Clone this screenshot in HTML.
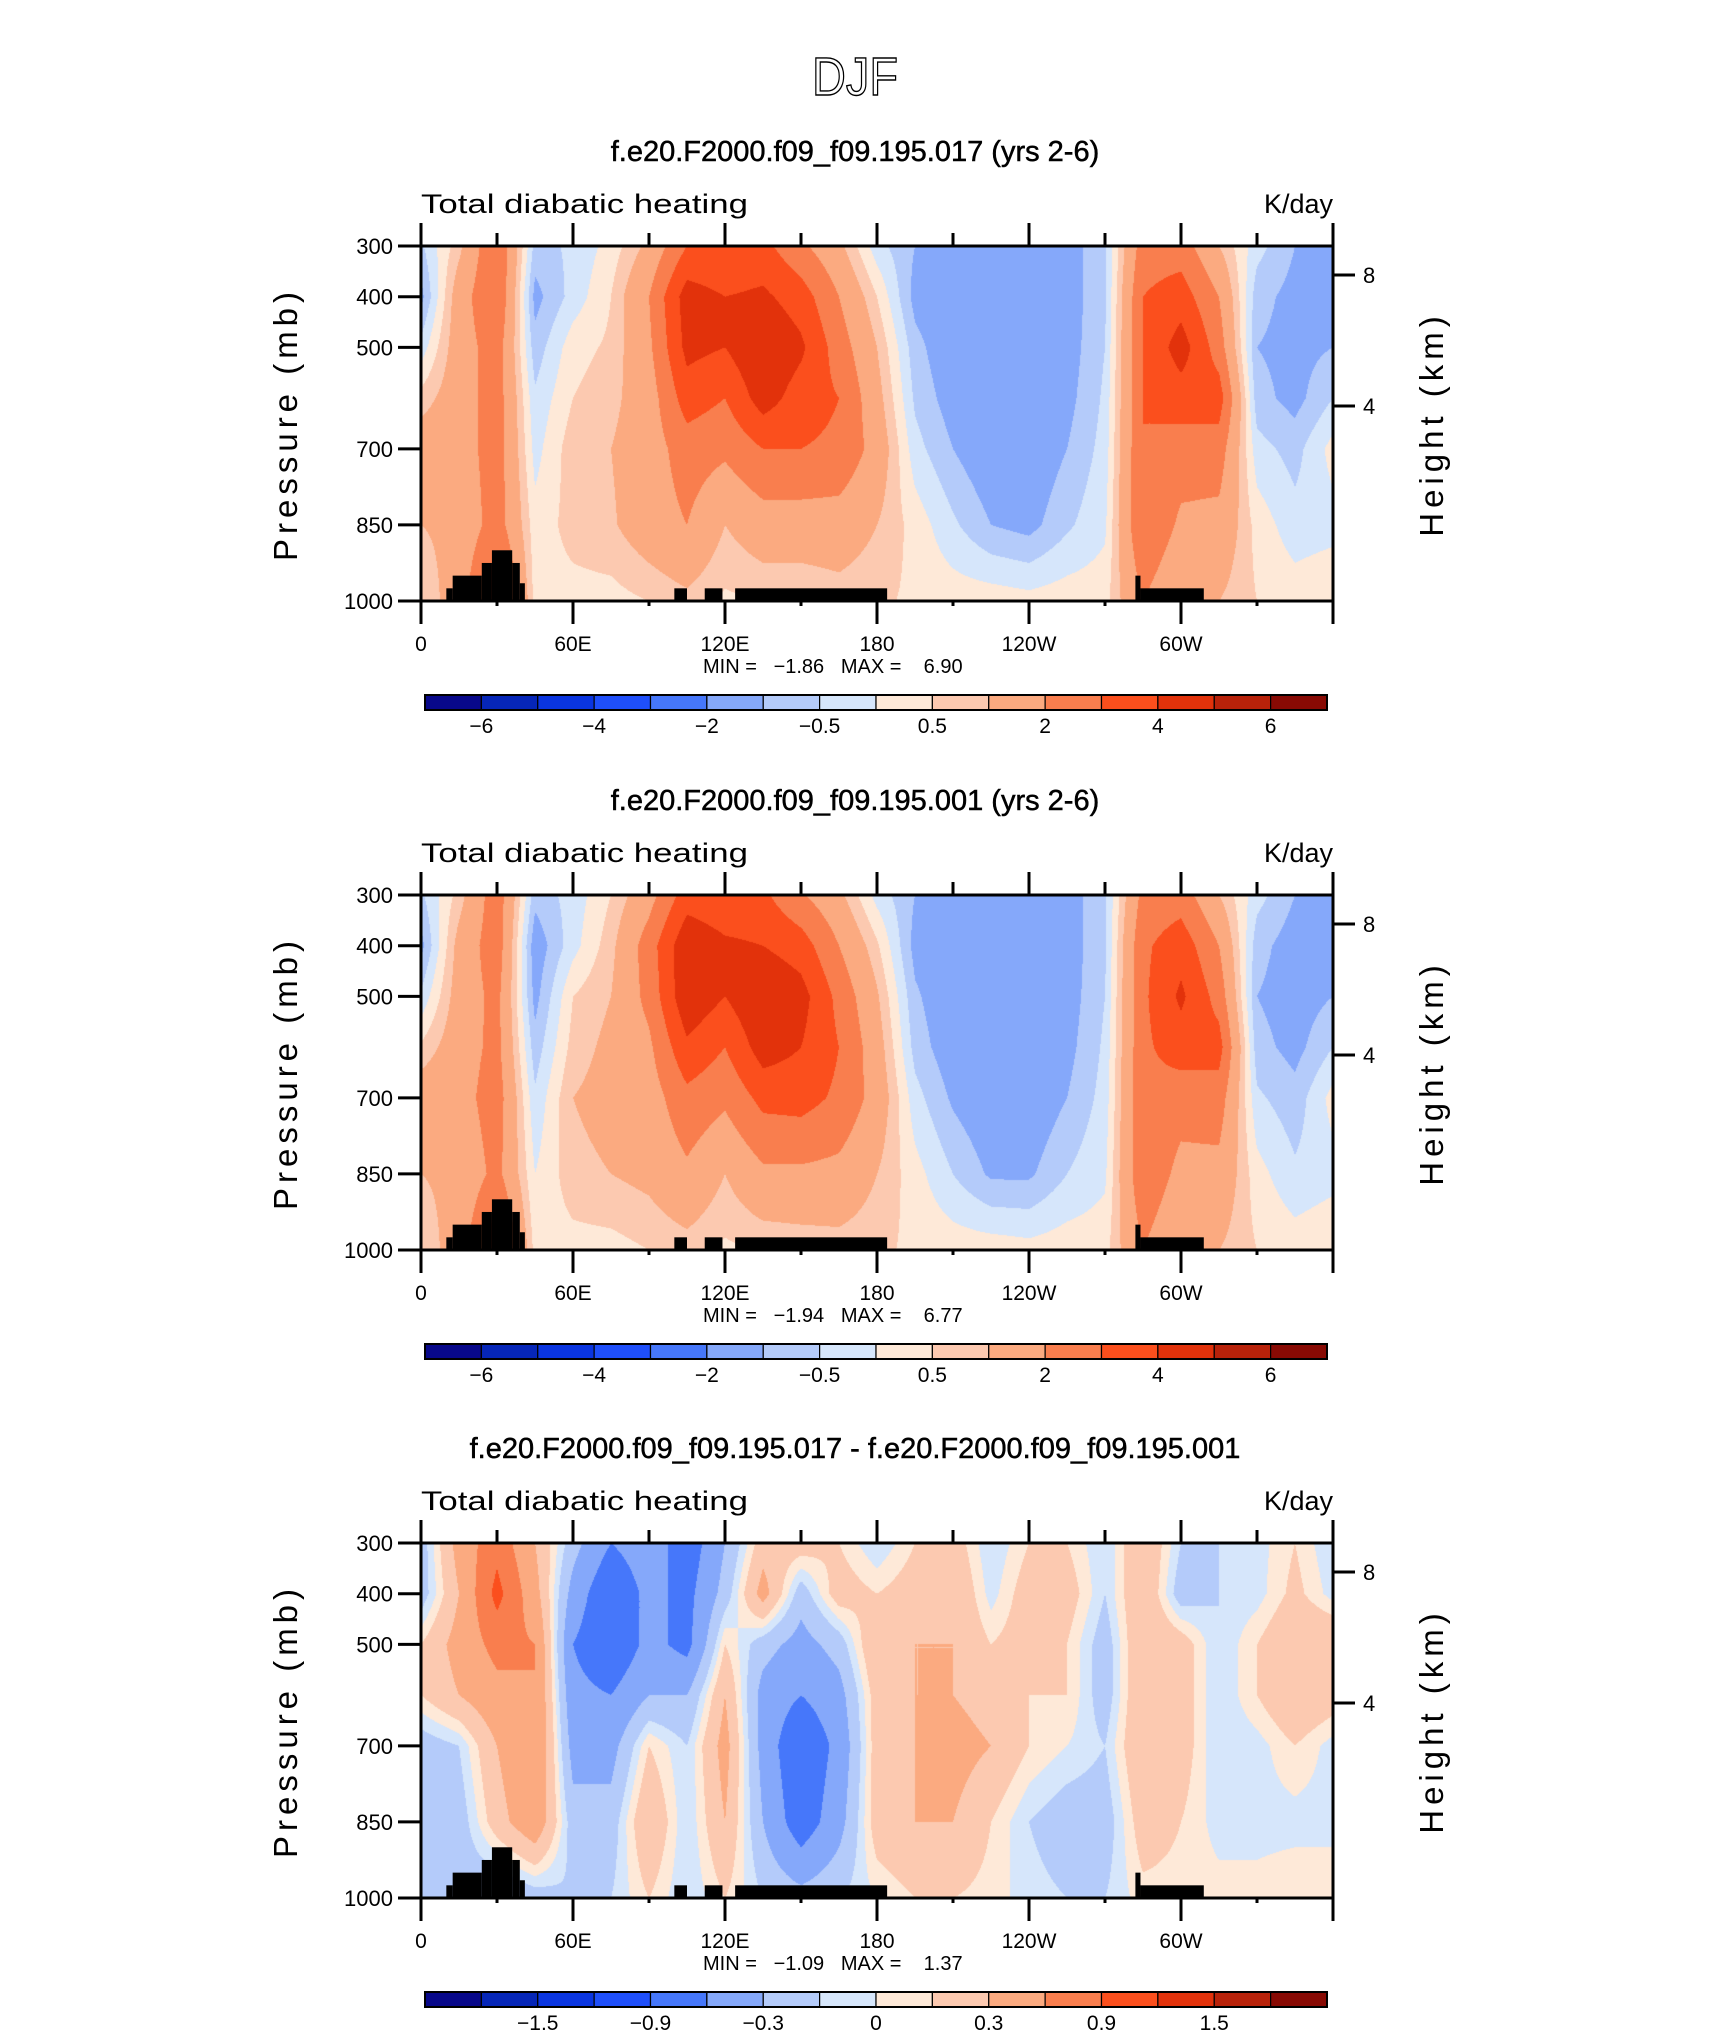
<!DOCTYPE html>
<html><head><meta charset="utf-8"><style>
body{margin:0;background:#fff;}
#wrap{position:relative;width:1710px;height:2038px;overflow:hidden;background:#fff;}
canvas{position:absolute;}
svg{position:absolute;left:0;top:0;}
text{font-family:"Liberation Sans",sans-serif;}
</style></head><body>
<div id="wrap">
<svg id="svg" width="1710" height="2038"></svg>
</div>
<script>
const lons=[0,15,30,45,60,75,90,105,120,135,150,165,180,195,210,225,240,255,270,285,300,315,330,345,360];
const levels=[300,400,500,600,700,850,1000];
// values[lonIndex] = [p300,p400,p500,p600,p700,p850,p1000]
const heating017=[
[-0.6,-1.2,-0.3,0.7,1.5,1.0,0.5],[0.8,1.5,1.5,1.5,1.5,1.2,1.5],[3,3,2.5,2.5,2.5,2.5,4],
[-0.7,-1.2,-0.8,-0.4,-0.2,0.2,0.3],[-0.4,-0.3,0.3,0.5,0.8,0.7,0.3],[0.2,0.5,0.6,0.8,1.0,0.9,0.3],
[1.2,2,1.8,1.5,1.5,1.5,0.5],[3,4.5,4.3,3.5,2.5,2,0.8],[3,4,4,3,2.2,1,0.4],
[3.3,4.2,5,4.5,3,1.5,0.5],[2.2,3.5,4.2,3.5,3,1.5,0.5],[1.2,2,2.5,3,2.8,1.5,0.7],
[-0.3,0.5,1,1.3,1.6,1.0,0.6],[-1.0,-1.2,-0.8,-0.6,-0.3,0.3,0.4],[-1.3,-1.5,-1.5,-1.3,-1,-0.4,0.3],
[-1.5,-1.5,-1.5,-1.5,-1.5,-1.0,0.3],[-1.5,-1.5,-1.5,-1.5,-1.5,-1.2,0.2],[-1.3,-1.3,-1.3,-1.2,-1.0,-0.6,0.3],
[-0.6,-0.6,-0.5,-0.4,-0.3,-0.1,0.3],[2.5,3,3,3,3,3,2],[2.5,3.5,4.5,3.5,2.5,1.8,1.0],
[1,2,2.5,3.5,2.5,1.7,1],[-0.3,-0.8,-1,-0.8,-0.3,0.3,0.5],[-1,-1.2,-1.2,-1.2,-0.7,-0.3,0.3],
[-1,-1.2,-1,-0.5,0.2,-0.2,0.5]];
const heating001=[
[-0.6,-1.2,-0.4,0.6,1.5,1.0,0.5],[0.7,1.3,1.4,1.5,1.6,1.2,1.5],[2.6,2.6,2.3,2.3,2.5,2.3,3.8],
[-0.8,-1.4,-1.2,-0.8,-0.4,0,0.3],[-0.3,-0.2,0.5,0.7,1.0,0.8,0.3],[0.5,0.8,1,1.2,1.3,1.0,0.3],
[1.6,2.5,2.3,1.8,1.5,1.2,0.5],[3.5,4.8,4.8,3.8,2.7,1.8,0.7],[3.2,4.2,4,3,2.2,1,0.4],
[3.2,4,5,4.5,3.3,1.8,0.5],[2.1,3.5,4.4,4,3.4,1.8,0.6],[1.2,2,2.7,3,2.8,1.7,0.7],
[-0.2,0.6,1.1,1.4,1.6,1.0,0.6],[-1.0,-1.2,-0.9,-0.7,-0.3,0.2,0.4],[-1.4,-1.5,-1.5,-1.4,-1.1,-0.5,0.3],
[-1.5,-1.5,-1.5,-1.5,-1.5,-1.1,0.3],[-1.5,-1.5,-1.5,-1.5,-1.5,-1.1,0.2],[-1.3,-1.3,-1.3,-1.2,-1.0,-0.5,0.3],
[-0.6,-0.6,-0.5,-0.4,-0.3,-0.1,0.3],[2.3,2.8,2.8,2.8,2.8,2.8,2],[2.5,3.6,4.2,3.5,2.4,1.7,1.0],
[1,2,2.6,3.4,2.5,1.7,1],[-0.3,-0.8,-1,-0.8,-0.4,0.2,0.5],[-1,-1.3,-1.3,-1.2,-0.8,-0.4,0.3],
[-1,-1.2,-1,-0.5,0.2,-0.2,0.5]];
const heatingDiff=[
[-0.2,-0.2,0.1,0.1,-0.2,-0.2,-0.1],[0.4,0.3,0.4,0.3,-0.1,-0.2,-0.2],[0.8,1.0,0.7,0.5,0.3,0.2,-0.3],
[0.3,0.4,0.6,0.6,0.6,0.5,-0.2],[-0.2,-0.4,-0.6,-0.5,-0.4,-0.2,-0.1],[-0.6,-0.9,-0.9,-0.6,-0.4,-0.2,-0.1],
[-0.4,-0.5,-0.5,-0.3,0.1,0.3,0.1],[-0.8,-0.7,-0.7,-0.3,-0.1,-0.1,-0.1],[-0.3,-0.2,0.1,0.3,0.4,0.3,0.1],
[0.2,0.4,-0.2,-0.4,-0.4,-0.3,-0.1],[0.2,-0.2,-0.4,-0.6,-0.9,-0.8,-0.2],[0.1,0.2,-0.2,-0.4,-0.5,-0.4,-0.1],
[-0.1,0.1,0.3,0.2,0.2,0.2,0],[0.1,0.2,0.3,0.3,0.3,0.3,0.1],[0.2,0.3,0.3,0.3,0.4,0.3,0.1],
[-0.1,-0.05,0.1,0.2,0.3,0.1,0.05],[0.1,0.2,0.2,0.1,0.1,-0.1,-0.05],[0.1,0.2,0.1,0.1,0,-0.2,-0.1],
[-0.1,-0.1,-0.2,-0.2,-0.1,-0.2,-0.1],[0.3,0.3,0.3,0.3,0.3,0.2,0.05],[-0.1,-0.2,0.2,0.2,0.2,0.1,0.05],
[-0.1,-0.1,-0.1,-0.1,-0.1,-0.05,0.05],[-0.05,-0.05,0.1,0.1,-0.05,-0.05,0.05],[0.1,0.15,0.3,0.3,0.1,-0.05,0.1],
[-0.1,-0.05,0.3,0.2,-0.05,-0.05,0.1]];
const levelsAbs=[-6,-5,-4,-3,-2,-1,-0.5,0,0.5,1,2,3,4,5,6];
const labelsAbs=["-6","-4","-2","-0.5","0.5","2","4","6"];
const levelsDiff=[-1.8,-1.5,-1.2,-0.9,-0.6,-0.3,-0.1,0,0.1,0.3,0.6,0.9,1.2,1.5,1.8];
const labelsDiff=["-1.5","-0.9","-0.3","0","0.3","0.9","1.5"];
const colors=["#08088a","#0626b8","#0a35e0","#1f4ffa","#4677fa","#85a8fa","#b4cbfa","#d6e6fb","#fee9d8","#fcc9b0","#fbaa80","#f97e4e","#fb4f1d","#e2320b","#b8220a","#880a04"];
// topography blocks: [lonStart, lonEnd, topPressure]
const topography=[[10,12.5,975],[12.5,24,950],[24,28,925],[28,36,900],[36,39,925],[39,41,965],[100,105,975],[112,119,975],[124,184,975],[282,284,950],[284,309,975]];
const lonTicks=[0,30,60,90,120,150,180,210,240,270,300,330,360];
const lonLabels={0:"0",60:"60E",120:"120E",180:"180",240:"120W",300:"60W"};
const pTicks=[300,400,500,700,850,1000];
const hTicks=[[8,275],[4,406]];
const panels=[
 {title:"f.e20.F2000.f09_f09.195.017 (yrs 2-6)",data:heating017,lev:levelsAbs,lab:labelsAbs,labIdx:[0,2,4,6,8,10,12,14],min:"-1.86",max:"6.90",off:0},
 {title:"f.e20.F2000.f09_f09.195.001 (yrs 2-6)",data:heating001,lev:levelsAbs,lab:labelsAbs,labIdx:[0,2,4,6,8,10,12,14],min:"-1.94",max:"6.77",off:649},
 {title:"f.e20.F2000.f09_f09.195.017 - f.e20.F2000.f09_f09.195.001",data:heatingDiff,lev:levelsDiff,lab:labelsDiff,labIdx:[1,3,5,7,9,11,13],min:"-1.09",max:"1.37",off:1297}
];
const X0=421,W=912,H=355;
const NS="http://www.w3.org/2000/svg";
const svg=document.getElementById('svg');
const wrap=document.getElementById('wrap');
function el(tag,attrs,parent,txt){const e=document.createElementNS(NS,tag);for(const k in attrs)e.setAttribute(k,attrs[k]);if(txt!==undefined)e.textContent=txt;(parent||svg).appendChild(e);return e;}
const xOf=lon=>X0+lon/360*W;
function yOf(p,top){return top+(p-300)/700*H;}
let t=el('text',{x:855,y:95,'font-size':'54','text-anchor':'middle',textLength:'86',lengthAdjust:'spacingAndGlyphs',style:'fill:none;stroke:#000;stroke-width:1.4'},svg,"DJF");


function val(d,lon,p){
 let i=Math.min(lons.length-2,Math.floor(lon/15));let fx=(lon-lons[i])/15;
 let j=0;while(j<levels.length-2&&p>levels[j+1])j++;let fy=(p-levels[j])/(levels[j+1]-levels[j]);
 fy=Math.max(0,Math.min(1,fy));
 const a=d[i][j],b=d[i+1][j],c=d[i][j+1],e=d[i+1][j+1];
 return (a*(1-fx)+b*fx)*(1-fy)+(c*(1-fx)+e*fx)*fy;
}
function bin(v,lev){let k=0;while(k<lev.length&&v>=lev[k])k++;return k;}
function hex(c){return [parseInt(c.substr(1,2),16),parseInt(c.substr(3,2),16),parseInt(c.substr(5,2),16)];}
const rgb=colors.map(hex);
panels.forEach((pn,pi)=>{
 const top=246+pn.off;
 const g=el('g',{});
 
 
 let tt=el('text',{x:855,y:top-85,'font-size':'29','text-anchor':'middle',style:'fill:#000;stroke:#000;stroke-width:0.5'},g,pn.title);
 
 
 let st=el('text',{x:421,y:top-33,'font-size':'27',textLength:'327',lengthAdjust:'spacingAndGlyphs'},g,"Total diabatic heating");
 
 
 let un=el('text',{x:1333,y:top-33,'font-size':'27','text-anchor':'end'},g,"K/day");
 
 
 const cv=document.createElement('canvas');cv.width=W;cv.height=H;cv.style.left=X0+'px';cv.style.top=top+'px';
 
 
 wrap.insertBefore(cv,svg);
 const ctx=cv.getContext('2d');const img=ctx.createImageData(W,H);
 for(let y=0;y<H;y++){const p=300+(y+0.5)/H*700;for(let x=0;x<W;x++){const lon=(x+0.5)/W*360;const c=rgb[bin(val(pn.data,lon,p),pn.lev)];const o=(y*W+x)*4;img.data[o]=c[0];img.data[o+1]=c[1];img.data[o+2]=c[2];img.data[o+3]=255;}}
 ctx.putImageData(img,0,0);
 topography.forEach(tb=>{
  const r=el('rect',{x:xOf(tb[0]),y:yOf(tb[2],top),width:xOf(tb[1])-xOf(tb[0]),height:yOf(1000,top)-yOf(tb[2],top),fill:'#000'},g);
  
  
 });
 let fr=el('rect',{x:X0,y:top,width:W,height:H,fill:'none',stroke:'#000','stroke-width':'3'},g);
 
 
 lonTicks.forEach(l=>{
  const major=l%60===0;const x=xOf(l);
  el('line',{x1:x,x2:x,y1:top,y2:top-(major?23:13),stroke:'#000','stroke-width':'3'},g);
  el('line',{x1:x,x2:x,y1:top+H,y2:top+H+(major?23:5),stroke:'#000','stroke-width':'3'},g);
  if(lonLabels[l]!==undefined){const lt=el('text',{x:x,y:top+H+50,'font-size':'21','text-anchor':'middle'},g,lonLabels[l]);
   
   }
 });
 pTicks.forEach(p=>{const y=yOf(p,top);
  el('line',{x1:X0,x2:X0-23,y1:y,y2:y,stroke:'#000','stroke-width':'3'},g);
  const lt=el('text',{x:X0-28,y:y+8,'font-size':'22','text-anchor':'end'},g,String(p));
  
  
 });
 hTicks.forEach(h=>{const y=h[1]+pn.off;
  el('line',{x1:X0+W,x2:X0+W+22,y1:y,y2:y,stroke:'#000','stroke-width':'3'},g);
  const lt=el('text',{x:X0+W+30,y:y+8,'font-size':'22'},g,String(h[0]));
  
  
 });
 let yt=el('text',{x:0,y:0,'font-size':'33','text-anchor':'middle','letter-spacing':'5',transform:`translate(297,${top+178}) rotate(-90)`},g,"Pressure (mb)");
 
 
 let ht=el('text',{x:0,y:0,'font-size':'33','text-anchor':'middle','letter-spacing':'5',transform:`translate(1443,${top+178}) rotate(-90)`},g,"Height (km)");
 
 
 let mm=el('text',{x:703,y:top+427,'font-size':'20',style:'white-space:pre'},g,`MIN =   ${pn.min.replace('-','\u2212')}   MAX =    ${pn.max}`);
 
 
 const cb0=425,cb1=1327,cy=top+449,ch=15,cw=(cb1-cb0)/16;
 colors.forEach((c,k)=>{const r=el('rect',{x:cb0+k*cw,y:cy,width:cw,height:ch,fill:c,stroke:'#000','stroke-width':'1.2'},g);
  
  });
 el('rect',{x:cb0,y:cy,width:cb1-cb0,height:ch,fill:'none',stroke:'#000','stroke-width':'2'},g);
 pn.labIdx.forEach((bi,k)=>{const lt=el('text',{x:cb0+(bi+1)*cw,y:cy+38,'font-size':'21','text-anchor':'middle'},g,pn.lab[k].replace('-','\u2212'));
  
  });
});
</script>
</body></html>
